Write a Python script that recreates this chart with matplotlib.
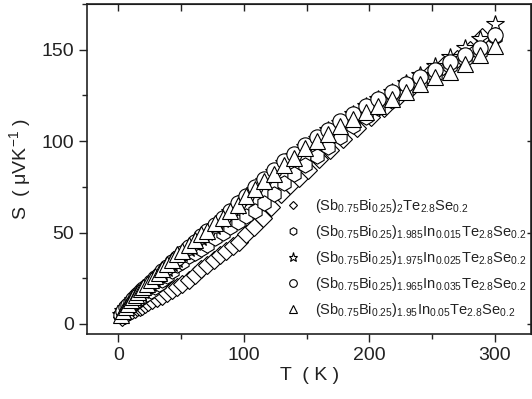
import matplotlib
matplotlib.use('Agg')
import matplotlib.pyplot as plt
from matplotlib.ticker import MultipleLocator

plt.rcParams['font.family'] = ['Liberation Sans', 'DejaVu Sans']
plt.rcParams['mathtext.default'] = 'regular'

# temperature grid (K)
T = [2, 4, 6, 8, 10, 12, 14, 16, 18, 20, 23, 26, 29, 32, 35, 39, 43, 47, 51, 56,
     61, 66, 71, 77, 83, 89, 95, 102, 109, 116, 124, 132, 140, 149, 158, 167, 177,
     187, 197, 207, 218, 229, 240, 252, 264, 276, 288, 300]
T_d = [3, 5, 7, 9, 11, 13, 15, 17, 19, 21, 24, 27, 31, 35, 39, 43, 47, 51, 56,
       61, 66, 71, 76, 81, 86, 91, 96, 102, 108, 115, 122, 130, 137, 144, 151, 160,
       169, 179, 190, 201, 212, 223, 235, 247, 259, 270, 280, 290]

S_x0 = [4, 5, 6, 7, 7.5, 8, 9, 9.5, 10, 11, 12, 13, 14, 15.5, 17, 18.5, 20, 22, 24,
        27, 30, 32, 35, 37.5, 40, 42.5, 45, 49, 53, 58, 64, 71, 76, 80, 84, 90,
        95, 101, 107, 113, 118, 124, 130, 136, 141, 145, 150, 157]
S_x015 = [5, 6.5, 8, 9, 10, 11, 12, 13, 14, 15, 16.5, 18, 20, 22, 24, 26, 29, 32, 34,
          37, 39, 41, 43, 47, 50, 53, 56, 59, 62, 66, 71, 77, 82, 87, 92, 97, 102,
          108, 113, 118, 122, 127, 132, 136, 141, 145, 149, 157]
S_x025 = [5, 7, 8.5, 10, 11.5, 13, 14, 15.5, 17, 18, 20, 22, 24, 26, 28, 30, 33, 35,
          38, 41, 44, 47, 50, 53, 57, 61, 64, 69, 73, 78, 83, 88, 92, 97, 101, 106,
          110, 115, 119, 123, 127, 132, 136, 141, 146, 151, 156, 164]
S_x035 = [5, 7, 9, 10.5, 12, 13.5, 15, 16.5, 18, 19, 21, 23, 25, 27, 29, 31, 34, 36,
          39, 42, 45, 48, 51, 54, 58, 62, 66, 70, 75, 79, 84, 89, 93, 98, 102, 106,
          111, 115, 119, 123, 127, 131, 135, 139, 143, 147, 151, 158]
S_x05 = [5, 7, 9, 11, 13, 14.5, 16, 17.5, 19, 20, 22, 24, 26, 28, 30, 33, 35, 38, 40,
         43, 46, 49, 51, 55, 58, 62, 65, 70, 74, 78, 82, 87, 91, 96, 100, 104, 108,
         112, 116, 119, 123, 127, 131, 135, 138, 142, 147, 152]

labels = [r'(Sb$_{0.75}$Bi$_{0.25}$)$_2$Te$_{2.8}$Se$_{0.2}$',
          r'(Sb$_{0.75}$Bi$_{0.25}$)$_{1.985}$In$_{0.015}$Te$_{2.8}$Se$_{0.2}$',
          r'(Sb$_{0.75}$Bi$_{0.25}$)$_{1.975}$In$_{0.025}$Te$_{2.8}$Se$_{0.2}$',
          r'(Sb$_{0.75}$Bi$_{0.25}$)$_{1.965}$In$_{0.035}$Te$_{2.8}$Se$_{0.2}$',
          r'(Sb$_{0.75}$Bi$_{0.25}$)$_{1.95}$In$_{0.05}$Te$_{2.8}$Se$_{0.2}$']

series = [(T_d, S_x0, 'D', 9), (T, S_x015, 'h', 11), (T, S_x025, '*', 13),
          (T, S_x035, 'o', 11), (T, S_x05, '^', 11)]

dark = '#222222'
fig = plt.figure(figsize=(5.32, 3.99), dpi=100)
ax = fig.add_axes([0.1635, 0.163, 0.835, 0.827])

handles = []
for (x, y, m, ms), lab in zip(series, labels):
    h, = ax.plot(x, y, linestyle='none', marker=m, markersize=ms,
                 markerfacecolor='white', markeredgecolor='black',
                 markeredgewidth=0.8, label=lab)
    handles.append(h)

ax.set_xlim(-25, 329)
ax.set_ylim(-5.5, 175)
ax.xaxis.set_major_locator(MultipleLocator(100))
ax.xaxis.set_minor_locator(MultipleLocator(50))
ax.yaxis.set_major_locator(MultipleLocator(50))
ax.yaxis.set_minor_locator(MultipleLocator(25))
ax.tick_params(which='major', direction='out', length=6, width=1, colors=dark,
               labelsize=14, top=False, right=False)
ax.tick_params(which='minor', direction='out', length=3.5, width=1, colors=dark,
               top=False, right=False)
for sp in ax.spines.values():
    sp.set_linewidth(1.2)
    sp.set_color(dark)

top = ax.secondary_xaxis('top')
top.xaxis.set_major_locator(MultipleLocator(50))
top.tick_params(direction='in', length=5, width=1, colors=dark, labeltop=False)
right = ax.secondary_yaxis('right')
right.yaxis.set_major_locator(MultipleLocator(50))
right.tick_params(direction='in', length=3, width=1, colors=dark, labelright=False)

ax.set_xlabel('T  ( K )', fontsize=14, color=dark, labelpad=2)
ax.set_ylabel(r'S  ( $\mu$VK$^{-1}$ )', fontsize=14, color=dark, labelpad=6)

leg = ax.legend(handles=handles, loc='upper left', frameon=False, fontsize=10.5,
                markerscale=0.5, handlelength=1.0, handletextpad=1.0,
                labelspacing=0.55, borderaxespad=0, borderpad=0,
                bbox_to_anchor=(0.447, 0.415))
for t in leg.get_texts():
    t.set_color(dark)

fig.savefig('out.png', dpi=100)
